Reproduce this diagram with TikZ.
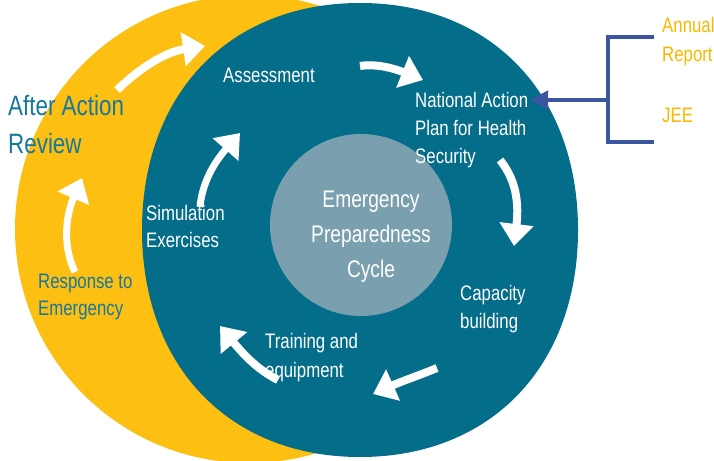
\documentclass[tikz,border=0pt]{standalone}
\usepackage{fontspec}
\setmainfont{Liberation Sans}[FakeStretch=0.8]
\usetikzlibrary{arrows.meta}
\definecolor{gold}{HTML}{FCBF12}
\definecolor{tealc}{HTML}{036D8A}
\definecolor{innerc}{HTML}{7A9FAF}
\definecolor{labteal}{HTML}{16789E}
\definecolor{brblue}{HTML}{3B55A1}
\definecolor{labgold}{HTML}{F9B800}
\begin{document}
\begin{tikzpicture}[x=1pt,y=-1pt,
  lbl/.style={inner sep=0pt, anchor=base west, align=left},
  wtxt/.style={lbl, text=white, font=\fontsize{21}{28}\selectfont},
  warrow/.style={white, line width=8pt, -{Triangle[length=22pt,width=33pt]}},
  bracket/.style={brblue, line width=4.5pt},
]
\useasboundingbox (0,0) rectangle (714,460);
\fill[white] (0,0) rectangle (714,460);
% rings
\fill[gold] (249,229) circle[radius=234];
\fill[tealc] (578,230) .. controls (578,93.8) and (490.8,3) .. (360,3)
  .. controls (229.2,3) and (142,93.8) .. (142,230)
  .. controls (142,366.2) and (229.2,457) .. (360,457)
  .. controls (490.8,457) and (578,366.2) .. (578,230) -- cycle;
\fill[innerc] (361,225) circle[radius=91];
% labels (anchored on the baseline of the last line)
\node[lbl, text=white, align=center, anchor=base, font=\fontsize{24}{35}\selectfont] (core) at (371,277) {Emergency\\Preparedness\\Cycle};
\node[wtxt] (assess) at (223,82) {Assessment};
\node[wtxt] (nap) at (415,163) {National Action\\Plan for Health\\Security};
\node[wtxt] (cap) at (460,328) {Capacity\\building};
\node[wtxt, font=\fontsize{21}{29}\selectfont] (train) at (265,377) {Training and\\equipment};
\node[wtxt, font=\fontsize{21}{27}\selectfont] (sim) at (146,247) {Simulation\\Exercises};
\node[lbl, text=labteal, font=\fontsize{28}{38}\selectfont] (aar) at (8,153) {After Action\\Review};
\node[lbl, text=labteal, font=\fontsize{21}{27}\selectfont] (resp) at (38,315) {Response to\\Emergency};
\node[lbl, text=labgold, font=\fontsize{21}{29}\selectfont] (annual) at (662,62) {Annual\\Report};
\node[lbl, text=labgold, font=\fontsize{21}{29}\selectfont] (jee) at (662,122) {JEE};
% cycle arrows
\coordinate (a1s) at (117,90);  \coordinate (a1e) at (205,46);
\coordinate (a2s) at (360,66);  \coordinate (a2e) at (423,80);
\coordinate (a3s) at (500,160); \coordinate (a3e) at (514,246);
\coordinate (a4s) at (437,368); \coordinate (a4e) at (373,394);
\coordinate (a5s) at (278,380); \coordinate (a5e) at (220,326);
\coordinate (a6s) at (200,207); \coordinate (a6e) at (240,133);
\coordinate (a7s) at (75,272);  \coordinate (a7e) at (82,178);
\draw[warrow] (a1s) .. controls (140,68) and (165,52) .. (a1e);
\draw[warrow] (a2s) .. controls (378,63) and (398,70) .. (a2e);
\draw[warrow] (a3s) .. controls (512,175) and (520,195) .. (a3e);
\draw[warrow] (a4s) .. controls (420,375) and (400,382) .. (a4e);
\draw[warrow] (a5s) .. controls (262,372) and (248,360) .. (a5e);
\draw[warrow, line width=7pt] (a6s) .. controls (202,185) and (212,165) .. (a6e);
\draw[warrow, line width=7pt] (a7s) .. controls (64,250) and (64,220) .. (a7e);
% bracket
\coordinate (btop) at (654,37);
\coordinate (bbot) at (654,142);
\coordinate (bmid) at (608,100);
\coordinate (btip) at (530,100);
\draw[bracket, line join=miter] (btop) -- (608,37) -- (608,142) -- (bbot);
\draw[bracket, -{Triangle[length=18pt,width=18pt]}] (bmid) -- (btip);
\end{tikzpicture}
\end{document}
